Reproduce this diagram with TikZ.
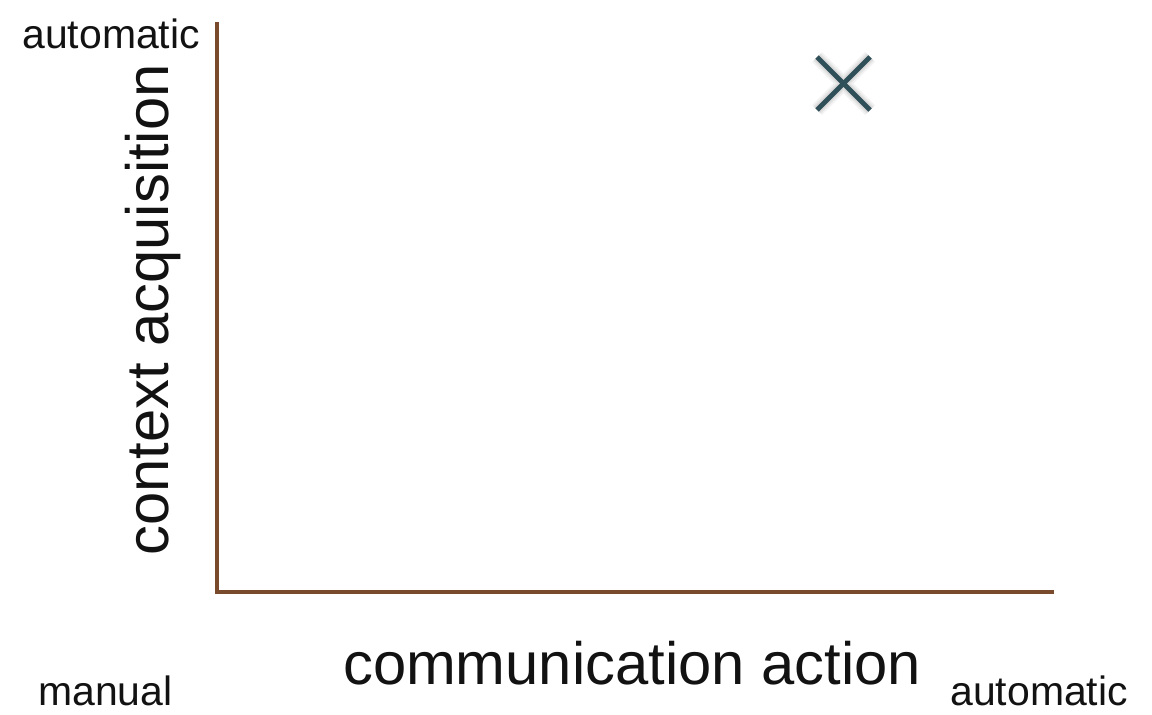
\documentclass[tikz,border=0pt]{standalone}
\usepackage{fontspec}
\setmainfont{Liberation Sans}
\usetikzlibrary{positioning}
\definecolor{axisColor}{HTML}{7A4A2C}
\definecolor{markColor}{HTML}{2F5058}
\definecolor{labelText}{HTML}{121212}
\newcommand{\smalllabel}{\fontsize{23.3}{28}\selectfont}
\newcommand{\biglabel}{\fontsize{34}{40}\selectfont}

\begin{document}
\begin{tikzpicture}[
  x=0.02cm, y=-0.02cm,
  axis/.style={draw=axisColor, line width=1.8pt},
  cross/.style={draw=markColor, line width=2.8pt},
  crossshadow/.style={draw=black, line width=#1, opacity=0.05},
  endlabel/.style={inner sep=0pt, anchor=base west, text=labelText, font=\smalllabel},
  axislabel/.style={inner sep=0pt, text=labelText, font=\biglabel}
]
\useasboundingbox (0,0) rectangle (1152,714);

% axes
\coordinate (origin) at (217,592);
\coordinate (ytop) at (217,22);
\coordinate (xend) at (1054,592);
\draw[axis] (ytop) -- (origin) -- (xend);

% end labels
\node[endlabel] (y-auto) at (22,48) {automatic};
\node[endlabel] (x-manual) at (38,705) {manual};
\node[endlabel] (x-auto) at (950,705) {automatic};

% axis titles
\node[axislabel, anchor=base, rotate=90] (y-title) at (168,310) {context acquisition};
\node[axislabel, anchor=base] (x-title) at (632,684) {communication action};

% the mark
\coordinate (c1) at (817,57);
\coordinate (c2) at (870,110);
\coordinate (c3) at (870,57);
\coordinate (c4) at (817,110);
\foreach \w in {8pt,6pt,4.5pt,3pt} {
  \draw[crossshadow=\w, shift={(1,8)}] (c1) -- (c2) (c3) -- (c4);
}
\draw[cross] (c1) -- (c2);
\draw[cross] (c3) -- (c4);

\end{tikzpicture}
\end{document}
